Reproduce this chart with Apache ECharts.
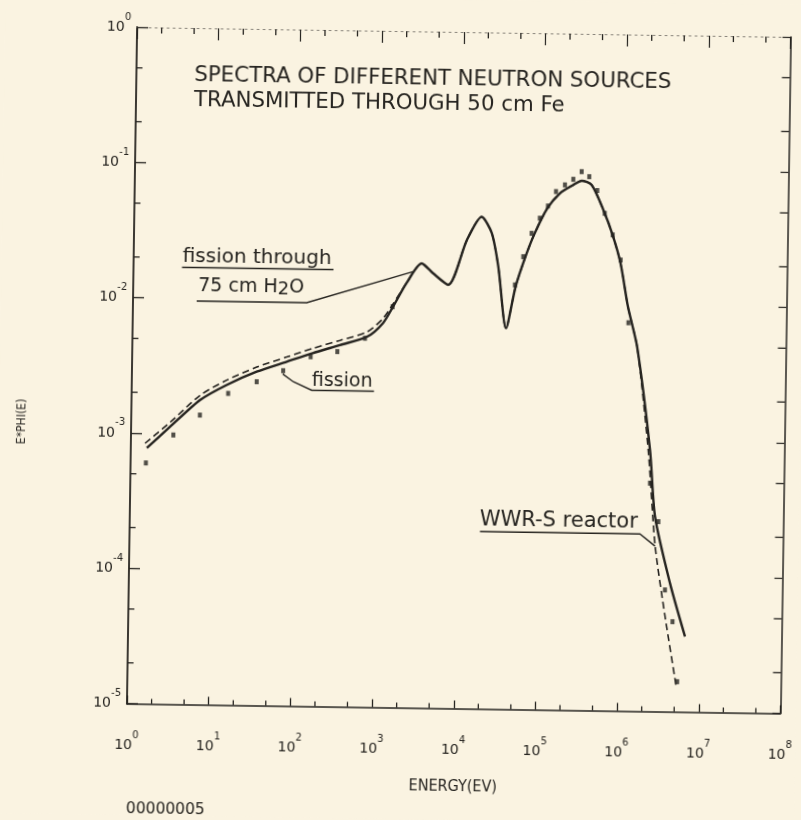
<!DOCTYPE html>
<html>
<head>
<meta charset="utf-8">
<script src="https://cdn.jsdelivr.net/npm/echarts@6/dist/echarts.min.js"></script>
<style>
  html, body { margin: 0; padding: 0; background: #faf3e1; }
  /* the sheet sits slightly skewed on the page */
  #chart { width: 801px; height: 820px; transform: rotate(0.86deg); transform-origin: 458.75px 370.25px; }
</style>
</head>
<body>
<div id="chart"></div>
<script>
// E*phi(E) spectra of several neutron sources after 50 cm of iron

// fission spectrum first moderated by 75 cm of water (solid curve)
const energyWater = [1.57, 2.99, 6.88, 14.5, 33.7, 78, 162, 348, 747, 1160, 1525, 2220, 3360, 4630, 7180,
  11900, 17900, 23900, 29200, 37200, 47900, 62500, 78700, 113500, 160700, 233000, 296000, 392000,
  550000, 722000, 915000, 1146000, 1510000, 2270000, 2690000, 4220000, 6580000];
const fluxWater = [7.78e-4, 1.12e-3, 1.78e-3, 2.32e-3, 2.93e-3, 3.50e-3, 4.08e-3, 4.71e-3, 5.47e-3, 6.93e-3, 9.16e-3,
  1.38e-2, 1.93e-2, 1.64e-2, 1.35e-2, 2.90e-2, 4.33e-2, 3.30e-2, 1.86e-2, 6.53e-3, 1.33e-2, 2.22e-2, 3.22e-2,
  5.09e-2, 6.59e-2, 7.62e-2, 8.20e-2, 7.65e-2, 5.03e-2, 3.29e-2, 2.03e-2, 9.75e-3, 4.94e-3, 8.55e-4,
  2.75e-4, 8.89e-5, 3.61e-5];

// WWR-S reactor spectrum (dashed curve)
const energyReactor = [1.49, 2.99, 6.88, 14.5, 33.7, 78, 162, 348, 747, 1160, 1525, 2220, 3360, 4630, 7180,
  11900, 17900, 23900, 29200, 37200, 47900, 62500, 78700, 113500, 160700, 233000, 296000, 392000,
  550000, 722000, 915000, 1146000, 1510000, 2160000, 2720000, 3720000, 5300000];
const fluxReactor = [8.42e-4, 1.21e-3, 1.93e-3, 2.52e-3, 3.17e-3, 3.79e-3, 4.42e-3, 5.10e-3, 5.95e-3, 7.5e-3, 9.6e-3,
  1.38e-2, 1.93e-2, 1.64e-2, 1.35e-2, 2.90e-2, 4.33e-2, 3.30e-2, 1.86e-2, 6.53e-3, 1.33e-2, 2.22e-2, 3.22e-2,
  5.09e-2, 6.59e-2, 7.62e-2, 8.20e-2, 7.65e-2, 5.03e-2, 3.29e-2, 2.03e-2, 9.75e-3, 4.94e-3, 8.5e-4,
  1.70e-4, 5.05e-5, 1.49e-5];

// bare fission source (point marks)
const energyFission = [1.54, 3.30, 6.92, 15.2, 33.8, 71, 153, 324, 702, 1510, 47000, 58700, 73600, 92200,
  115300, 143800, 184600, 233000, 294000, 365000, 460000, 573000, 724000, 915000, 1170000, 2300000,
  2960000, 3670000, 4600000, 5380000];
const fluxFission = [6.03e-4, 9.77e-4, 1.38e-3, 2.01e-3, 2.47e-3, 3.00e-3, 3.83e-3, 4.21e-3, 5.32e-3, 9.16e-3,
  1.37e-2, 2.22e-2, 3.31e-2, 4.29e-2, 5.29e-2, 6.78e-2, 7.61e-2, 8.39e-2, 9.58e-2, 8.81e-2, 6.97e-2, 4.74e-2,
  3.29e-2, 2.15e-2, 7.41e-3, 4.86e-4, 2.53e-4, 7.93e-5, 4.63e-5, 1.67e-5];

// axis ranges and the 2 / 5 sub-decade ticks
const energyRange = [1, 1e8];
const fluxRange = [1e-5, 1];
const energyMinorTicks = [2, 5, 20, 50, 200, 500, 2e3, 5e3, 2e4, 5e4, 2e5, 5e5, 2e6, 5e6, 2e7, 5e7];
const fluxMinorTicks = [2e-5, 5e-5, 2e-4, 5e-4, 2e-3, 5e-3, 2e-2, 5e-2, 0.2, 0.5];

const ink = '#262420';
const plotterFont = "'DejaVu Sans Condensed', 'DejaVu Sans', sans-serif";
const letterFont = "'DejaVu Sans', sans-serif";

const zip = (xs, ys) => xs.map((x, i) => [x, ys[i]]);

const tickData = [];
energyMinorTicks.forEach(v => tickData.push([v, fluxRange[0], 0]));
fluxMinorTicks.forEach(v => tickData.push([energyRange[0], v, 1]));

const powerLabel = v => {
  const e = Math.round(Math.log10(v));
  return '{b|10}{s|' + e + '}';
};
const powerRich = {
  b: { fontSize: 14, fontFamily: letterFont, color: ink, lineHeight: 30 },
  s: { fontSize: 10, fontFamily: letterFont, color: ink, lineHeight: 11, verticalAlign: 'top' }
};

const chart = echarts.init(document.getElementById('chart'), null, { renderer: 'canvas' });

const lineSeg = (x1, y1, x2, y2) => ({
  type: 'line', shape: { x1, y1, x2, y2 }, style: { stroke: ink, lineWidth: 1.3 }
});

const leftText = (x, y, text, font) => ({
  type: 'text', x, y,
  style: { text, font, fill: ink, textAlign: 'left', textVerticalAlign: 'middle', align: 'left', verticalAlign: 'middle' }
});
const leader = points => ({
  type: 'polyline', shape: { points }, style: { stroke: ink, lineWidth: 1.4, fill: null }
});

chart.setOption({
  backgroundColor: '#faf3e1',
  animation: false,
  grid: { left: 132, top: 32, right: 15.5, height: 676.5 },
  xAxis: [
    {
      type: 'log', logBase: 10, min: energyRange[0], max: energyRange[1], splitNumber: 8,
      position: 'bottom',
      axisLine: { lineStyle: { color: ink, width: 1.6 } },
      axisTick: { inside: true, length: 8, lineStyle: { color: ink, width: 1.3 } },
      axisLabel: { interval: 0, margin: 27, formatter: powerLabel, rich: powerRich, showMinLabel: true, showMaxLabel: true },
      splitLine: { show: false }
    },
    {
      type: 'log', logBase: 10, min: energyRange[0], max: energyRange[1], splitNumber: 8,
      position: 'top',
      axisLine: { lineStyle: { color: '#8a857c', width: 1, type: [2, 4] } },
      axisTick: { inside: true, length: 12, lineStyle: { color: ink, width: 1.2 } },
      axisLabel: { show: false },
      splitLine: { show: false }
    }
  ],
  yAxis: [
    {
      type: 'log', logBase: 10, min: fluxRange[0], max: fluxRange[1], splitNumber: 5,
      position: 'left',
      axisLine: { lineStyle: { color: ink, width: 1.8 } },
      axisTick: { inside: true, length: 11, lineStyle: { color: ink, width: 1.3 } },
      axisLabel: { interval: 0, margin: 6, formatter: powerLabel, rich: powerRich, showMinLabel: true, showMaxLabel: true },
      splitLine: { show: false }
    },
    {
      type: 'log', logBase: 10, min: fluxRange[0], max: fluxRange[1], splitNumber: 5,
      position: 'right',
      axisLine: { lineStyle: { color: ink, width: 1.5 } },
      axisTick: { inside: true, length: 8, lineStyle: { color: ink, width: 1.2 } },
      axisLabel: { show: false },
      splitLine: { show: false }
    }
  ],
  series: [
    {
      name: 'fission through 75 cm H2O', type: 'line', smooth: 0.25, showSymbol: false,
      data: zip(energyWater, fluxWater),
      lineStyle: { color: ink, width: 2.4 }
    },
    {
      name: 'WWR-S reactor', type: 'line', smooth: 0.25, showSymbol: false,
      data: zip(energyReactor, fluxReactor),
      lineStyle: { color: ink, width: 1.6, type: [7, 4] }
    },
    {
      name: 'fission', type: 'scatter', symbol: 'rect', symbolSize: [4, 5],
      data: zip(energyFission, fluxFission),
      itemStyle: { color: ink }
    },
    {
      // sub-decade ticks on all four sides of the frame
      type: 'custom', silent: true, clip: false,
      data: tickData,
      renderItem: (params, api) => {
        const side = api.value(2);
        if (side === 0) {
          const v = api.value(0);
          const b = api.coord([v, fluxRange[0]]);
          const t = api.coord([v, fluxRange[1]]);
          return { type: 'group', children: [lineSeg(b[0], b[1], b[0], b[1] - 5), lineSeg(t[0], t[1], t[0], t[1] + 6)] };
        }
        const v = api.value(1);
        const l = api.coord([energyRange[0], v]);
        const r = api.coord([energyRange[1], v]);
        return { type: 'group', children: [lineSeg(l[0], l[1], l[0] + 6, l[1]), lineSeg(r[0], r[1], r[0] - 8, r[1])] };
      }
    }
  ],
  graphic: [
    leftText(190, 79, 'SPECTRA OF DIFFERENT NEUTRON SOURCES', '21.3px ' + letterFont),
    leftText(190, 104, 'TRANSMITTED THROUGH 50 cm Fe', '21.3px ' + letterFont),

    leftText(181, 261, 'fission through', '20px ' + letterFont),
    leader([[180.5, 271.5], [332, 271.5]]),
    { type: 'text', x: 197, y: 290, style: {
        text: '{a|75 cm H}{c|2}{a|O}', fill: ink, textAlign: 'left', textVerticalAlign: 'middle', align: 'left', verticalAlign: 'middle',
        rich: { a: { font: '19px ' + letterFont, fill: ink, lineHeight: 22 }, c: { font: '18px ' + letterFont, fill: ink, lineHeight: 12, verticalAlign: 'bottom' } }
      } },
    leader([[195.7, 305], [305.7, 305], [411.5, 272.4]]),

    leftText(312, 383.5, 'fission', '19px ' + letterFont),
    leader([[282.8, 376.6], [293.5, 384.2], [312, 392.5], [374.3, 392.5]]),

    leftText(482, 520, 'WWR-S reactor', '21px ' + letterFont),
    leader([[482.4, 531.2], [642.4, 531.2], [657.6, 543.1]]),

    { type: 'text', x: 22.5, y: 428, rotation: Math.PI / 2, style: { text: 'E*PHI(E)', font: '12px ' + plotterFont, fill: ink, textAlign: 'center', textVerticalAlign: 'middle', align: 'center', verticalAlign: 'middle' } },
    { type: 'text', x: 459, y: 787, style: { text: 'ENERGY(EV)', font: '16px ' + plotterFont, fill: ink, textAlign: 'center', textVerticalAlign: 'middle', align: 'center', verticalAlign: 'middle' } },
    { type: 'text', x: 172, y: 814, style: { text: '00000005', font: '15.5px ' + letterFont, fill: ink, textAlign: 'center', textVerticalAlign: 'middle', align: 'center', verticalAlign: 'middle' } }
  ]
});
</script>
</body>
</html>
